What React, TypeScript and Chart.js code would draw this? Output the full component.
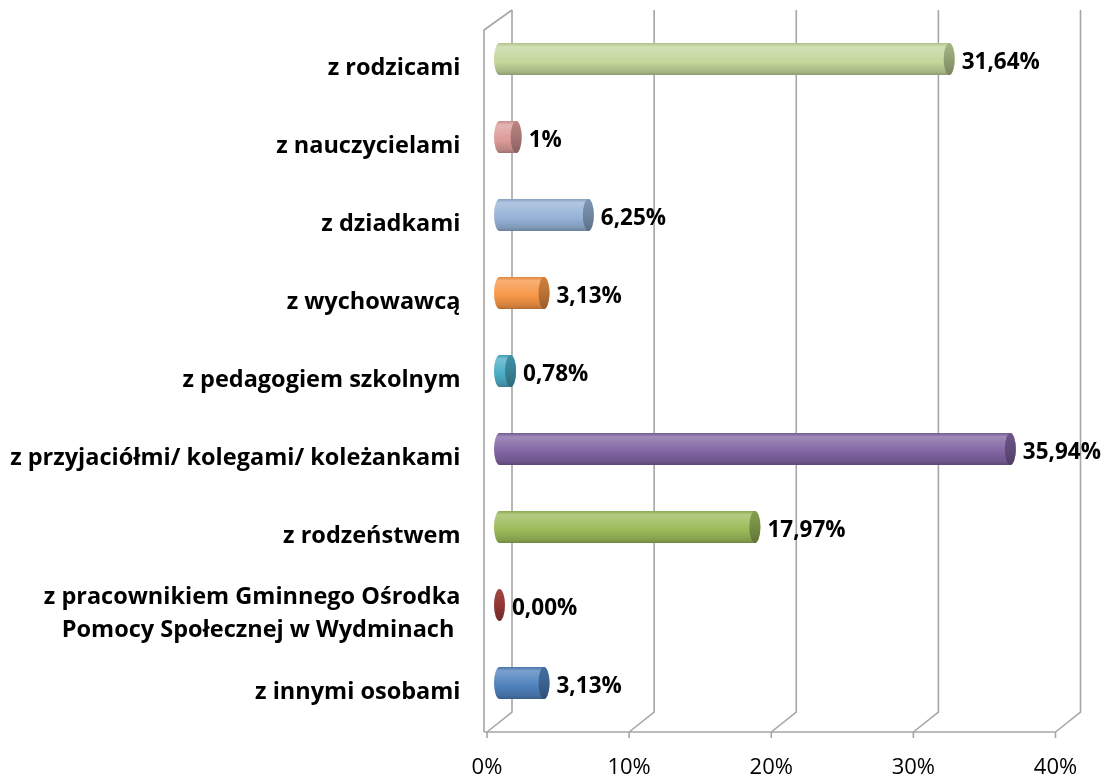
import React, { useEffect, useRef } from 'react';
import { Chart, registerables } from 'chart.js';

Chart.register(...registerables);

const categories: (string | string[])[] = [
  'z rodzicami',
  'z nauczycielami',
  'z dziadkami',
  'z wychowawcą',
  'z pedagogiem szkolnym',
  'z przyjaciółmi/ kolegami/ koleżankami',
  'z rodzeństwem',
  ['z pracownikiem Gminnego Ośrodka', 'Pomocy Społecznej w Wydminach '],
  'z innymi osobami',
];
const values = [31.64, 1.17, 6.25, 3.13, 0.78, 35.94, 17.97, 0, 3.13];
const valueLabels = ['31,64%', '1%', '6,25%', '3,13%', '0,78%', '35,94%', '17,97%', '0,00%', '3,13%'];
const barColors = ['#c3d69b', '#dc9c9a', '#95b3d7', '#f79646', '#4bacc6', '#8064a2', '#9bbb59', '#943634', '#4f81bd'];
const xTickValues = [0, 10, 20, 30, 40];

const FONT = '"Open Sans", "Liberation Sans", sans-serif';

function hexToRgb(h: string) {
  const n = parseInt(h.slice(1), 16);
  return [(n >> 16) & 255, (n >> 8) & 255, n & 255];
}
function mix(c: string, target: string, t: number) {
  const a = hexToRgb(c);
  const b = hexToRgb(target);
  const r = a.map((v, i) => Math.round(v + (b[i] - v) * t));
  return `rgb(${r[0]},${r[1]},${r[2]})`;
}

const DX = 12.5;
const DY = 10;

const wallsPlugin = {
  id: 'walls3d',
  beforeDatasetsDraw(chart: any) {
    const { ctx, chartArea, scales } = chart;
    const xs = scales.x;
    ctx.save();
    ctx.strokeStyle = '#a6a6a6';
    ctx.lineWidth = 1.6;
    const backTop = chartArea.top - DY;
    const backBot = chartArea.bottom - DY;
    const frontBot = chartArea.bottom + DY;
    const frontTop = chartArea.top + DY;
    const x0f = xs.getPixelForValue(xTickValues[0]) - DX;
    const leftEdge = x0f - 3;
    ctx.beginPath();
    ctx.moveTo(leftEdge, frontBot);
    ctx.lineTo(leftEdge, frontTop);
    ctx.lineTo(xs.getPixelForValue(xTickValues[0]) + DX, backTop);
    ctx.stroke();
    xTickValues.forEach((v) => {
      const m = xs.getPixelForValue(v);
      const bx = m + DX;
      const fx = m - DX;
      ctx.beginPath();
      ctx.moveTo(bx, backTop);
      ctx.lineTo(bx, backBot);
      ctx.lineTo(fx, frontBot);
      ctx.stroke();
      ctx.beginPath();
      ctx.moveTo(fx, frontBot);
      ctx.lineTo(fx, frontBot + 6);
      ctx.stroke();
    });
    ctx.beginPath();
    ctx.moveTo(leftEdge, frontBot);
    ctx.lineTo(xs.getPixelForValue(xTickValues[xTickValues.length - 1]) - DX, frontBot);
    ctx.stroke();
    ctx.restore();
  },
};

function drawCylinder(ctx: CanvasRenderingContext2D, x0: number, x1: number, cy: number, h: number, rx: number, color: string) {
  const ry = h / 2;
  const top = cy - ry;
  const bot = cy + ry;
  const g = ctx.createLinearGradient(0, top, 0, bot);
  g.addColorStop(0, mix(color, '#000000', 0.1));
  g.addColorStop(0.12, mix(color, '#ffffff', 0.25));
  g.addColorStop(0.3, mix(color, '#ffffff', 0.15));
  g.addColorStop(0.6, color);
  g.addColorStop(0.9, mix(color, '#000000', 0.15));
  g.addColorStop(1, mix(color, '#000000', 0.28));
  if (x1 > x0) {
    ctx.beginPath();
    ctx.moveTo(x0, top);
    ctx.lineTo(x1, top);
    ctx.ellipse(x1, cy, rx, ry, 0, -Math.PI / 2, Math.PI / 2);
    ctx.lineTo(x0, bot);
    ctx.ellipse(x0, cy, rx, ry, 0, Math.PI / 2, Math.PI * 1.5);
    ctx.closePath();
    ctx.fillStyle = g;
    ctx.fill();
    const cg = ctx.createLinearGradient(0, top, 0, bot);
    cg.addColorStop(0, mix(color, '#000000', 0.15));
    cg.addColorStop(0.5, mix(color, '#000000', 0.25));
    cg.addColorStop(1, mix(color, '#000000', 0.38));
    ctx.beginPath();
    ctx.ellipse(x1, cy, rx, ry, 0, 0, Math.PI * 2);
    ctx.fillStyle = cg;
    ctx.fill();
  } else {
    const cg = ctx.createLinearGradient(0, top, 0, bot);
    cg.addColorStop(0, mix(color, '#ffffff', 0.1));
    cg.addColorStop(0.5, color);
    cg.addColorStop(1, mix(color, '#000000', 0.25));
    ctx.beginPath();
    ctx.ellipse(x1, cy, rx, ry, 0, 0, Math.PI * 2);
    ctx.fillStyle = cg;
    ctx.fill();
  }
}

const cylinderPlugin = {
  id: 'cylinders',
  afterDatasetsDraw(chart: any) {
    const { ctx } = chart;
    const meta = chart.getDatasetMeta(0);
    ctx.save();
    meta.data.forEach((el: any, i: number) => {
      const rx = 5.5;
      const x0 = el.base;
      const x1 = el.x;
      const cy = el.y;
      drawCylinder(ctx, x0, x1, cy, el.height, rx, barColors[i]);
      ctx.fillStyle = '#000';
      ctx.font = `bold 22.5px ${FONT}`;
      ctx.textAlign = 'left';
      ctx.textBaseline = 'middle';
      ctx.fillText(valueLabels[i], x1 + rx + 7, cy + 4);
    });
    ctx.restore();
  },
};

export default function App() {
  const ref = useRef<HTMLCanvasElement>(null);
  useEffect(() => {
    if (!ref.current) return;
    const chart = new Chart(ref.current, {
      type: 'bar',
      data: {
        labels: categories,
        datasets: [
          {
            data: values,
            backgroundColor: 'rgba(0,0,0,0)',
            borderWidth: 0,
            barThickness: 32,
          },
        ],
      },
      options: {
        indexAxis: 'y',
        animation: false,
        responsive: false,
        layout: { padding: { top: 20, right: 39, bottom: 0, left: 0 } },
        plugins: { legend: { display: false }, tooltip: { enabled: false } },
        scales: {
          x: {
            type: 'linear',
            min: 0,
            max: 40,
            grid: { display: false, drawTicks: false },
            border: { display: false },
            ticks: {
              stepSize: 10,
              callback: (v: any) => v + '%',
              color: '#000',
              font: { family: FONT, size: 22 },
              padding: 33,
              labelOffset: -DX,
            },
            afterFit: (s: any) => {
              s.height = 56;
              s.paddingLeft = 0;
              s.paddingRight = 0;
            },
          },
          y: {
            type: 'category',
            offset: true,
            grid: { display: false, drawTicks: false },
            border: { display: false },
            ticks: {
              color: '#000',
              font: { family: FONT, size: 23.5, weight: 'bold', lineHeight: 1.4 },
              padding: 39,
              labelOffset: 9,
            },
            afterFit: (s: any) => {
              s.width = 499.5;
              s.paddingTop = 0;
              s.paddingBottom = 0;
            },
          },
        },
      } as any,
      plugins: [wallsPlugin, cylinderPlugin],
    });
    return () => chart.destroy();
  }, []);
  return (
    <div style={{ position: 'absolute', left: 0, top: 0, width: 1107, height: 778, background: '#fff' }}>
      <canvas ref={ref} width={1107} height={778} style={{ display: 'block' }} />
    </div>
  );
}
